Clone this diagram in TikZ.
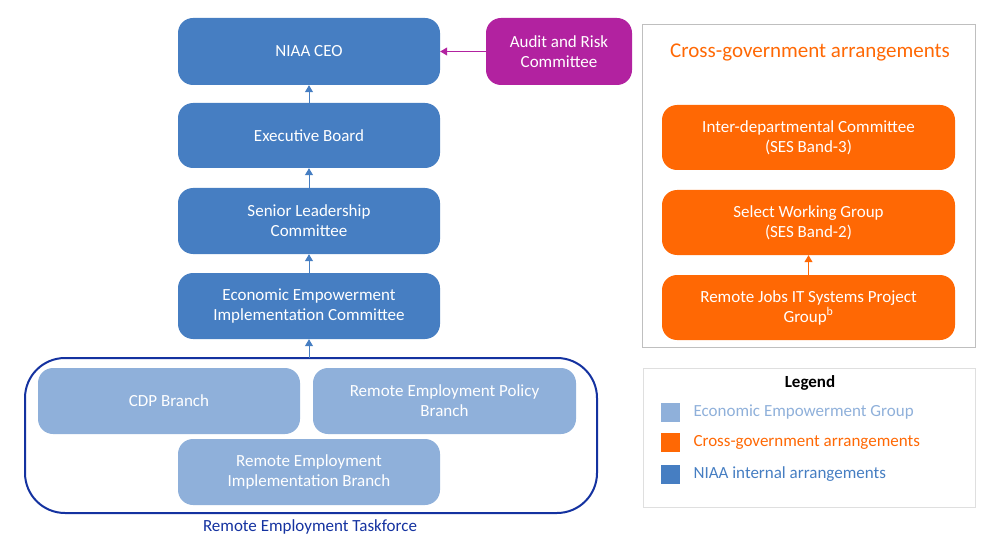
\documentclass[tikz,border=0pt]{standalone}
\usepackage{fontspec}
\setmainfont{Carlito}
\usetikzlibrary{arrows.meta}
\definecolor{mblue}{RGB}{70,126,194}
\definecolor{lblue}{RGB}{143,176,218}
\definecolor{orng}{RGB}{255,104,4}
\definecolor{purp}{RGB}{178,34,160}
\definecolor{navy}{RGB}{20,50,160}
\begin{document}
\begin{tikzpicture}[x=1pt,y=-1pt,
  box/.style={rounded corners=15pt,text=white,align=center,font=\fontsize{17}{20}\selectfont,inner sep=0pt},
  conn/.style={-{Triangle[length=7pt,width=8pt]},line width=1pt}]
\useasboundingbox (0,0) rectangle (1001,556);
\def\bx#1#2#3#4#5#6#7{\node[box,fill=#6,minimum width=#3-#2,minimum height=#5-#4] (#1) at ({(#2+#3)/2},{(#4+#5)/2}) {#7};}
\bx{ceo}{178}{440}{18}{85}{mblue}{NIAA CEO}
\bx{eb}{178}{440}{103}{168}{mblue}{Executive Board}
\bx{slc}{178}{440}{188}{254}{mblue}{Senior Leadership\\Committee}
\bx{eeic}{178}{440}{273}{339}{mblue}{Economic Empowerment\\Implementation Committee}
\bx{arc}{486}{632}{18}{85}{purp}{Audit and Risk\\Committee}
\draw[navy,line width=2pt,rounded corners=40pt] (25,358) rectangle (597,513);
\node[text=navy,font=\fontsize{17}{20}\selectfont] (tf) at (310,527) {Remote Employment Taskforce};
\coordinate (tftop) at (309,358);
\bx{cdp}{38}{300}{368}{434}{lblue}{CDP Branch}
\bx{rep}{313}{576}{368}{434}{lblue}{Remote Employment Policy\\Branch}
\bx{reib}{178}{440}{439}{505}{lblue}{Remote Employment\\Implementation Branch}
\draw[gray!50,line width=1pt] (642,25) rectangle (975,347);
\node[text=orng,font=\fontsize{21}{24}\selectfont] (cgt) at (810,52) {Cross-government arrangements};
\bx{idc}{662}{955}{105}{170}{orng}{Inter-departmental Committee\\(SES Band-3)}
\bx{swg}{662}{955}{190}{255}{orng}{Select Working Group\\(SES Band-2)}
\bx{rj}{662}{955}{275}{340}{orng}{Remote Jobs IT Systems Project\\Group\textsuperscript{b}}
\draw[conn,mblue] (eb) -- (ceo);
\draw[conn,mblue] (slc) -- (eb);
\draw[conn,mblue] (eeic) -- (slc);
\draw[conn,mblue] (tftop) -- (eeic);
\draw[conn,purp] (arc) -- (ceo);
\draw[conn,orng] (rj) -- (swg);
\draw[gray!25,line width=1pt] (643,368) rectangle (975,507);
\node[font=\bfseries\fontsize{17}{20}\selectfont] (lg) at (810,383) {Legend};
\node[fill=lblue,minimum size=19pt,inner sep=0pt] (s1) at (670,412) {};
\node[fill=orng,minimum size=19pt,inner sep=0pt] (s2) at (670,442) {};
\node[fill=mblue,minimum size=19pt,inner sep=0pt] (s3) at (670,474) {};
\node[anchor=west,text=lblue,font=\fontsize{17}{20}\selectfont] (t1) at (690,412) {Economic Empowerment Group};
\node[anchor=west,text=orng,font=\fontsize{17}{20}\selectfont] (t2) at (690,442) {Cross-government arrangements};
\node[anchor=west,text=mblue,font=\fontsize{17}{20}\selectfont] (t3) at (690,474) {NIAA internal arrangements};
\end{tikzpicture}
\end{document}
